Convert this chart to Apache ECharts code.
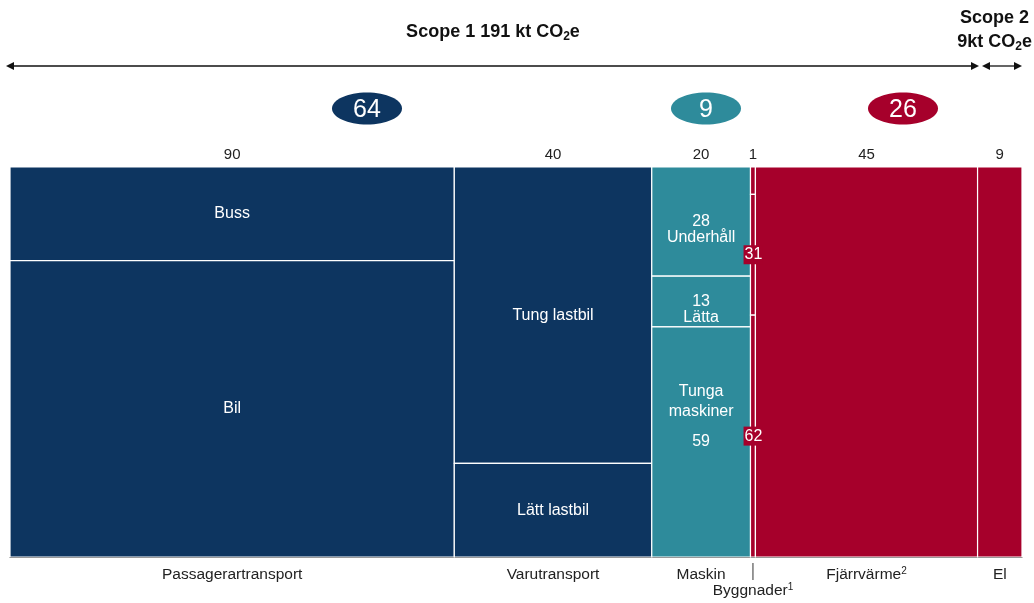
<!DOCTYPE html>
<html>
<head>
<meta charset="utf-8">
<script src="https://cdn.jsdelivr.net/npm/echarts@6/dist/echarts.min.js"></script>
<style>
html,body{margin:0;padding:0;background:#fff;}
#chart{width:1034px;height:603px;}
</style>
</head>
<body>
<div id="chart"></div>
<script>
// ---- data ----
const columns = ['Passagerartransport', 'Varutransport', 'Maskin', 'Byggnader', 'Fjärrvärme', 'El'];
const columnSups = ['', '', '', '1', '2', ''];
const columnTotals = [90, 40, 20, 1, 45, 9];
const columnColors = ['#0d3560', '#0d3560', '#2e8b9b', '#a6002b', '#a6002b', '#a6002b'];
// segment shares (%) from top to bottom
const passagerShares = [24, 76];
const passagerNames = ['Buss', 'Bil'];
const varuShares = [76, 24];
const varuNames = ['Tung lastbil', 'Lätt lastbil'];
const maskinShares = [28, 13, 59];
const maskinNames = ['Underhåll', 'Lätta', 'Tunga\nmaskiner'];
const byggShares = [7, 31, 62];
const fjarrShares = [100];
const elShares = [100];
const groupTotals = [64, 9, 26];
const scope1Total = 191;
const scope2Total = 9;

const allShares = [passagerShares, varuShares, maskinShares, byggShares, fjarrShares, elShares];

// build segments
const segData = [];
let xStart = 0;
columnTotals.forEach(function (w, ci) {
  let yTop = 100;
  allShares[ci].forEach(function (s, si) {
    segData.push([xStart, xStart + w, yTop - s, yTop, ci, si, s]);
    yTop -= s;
  });
  xStart += w;
});
const xTotal = xStart;
const colData = [];
xStart = 0;
columnTotals.forEach(function (w, ci) {
  colData.push([xStart, xStart + w, ci, w]);
  xStart += w;
});

function segLabel(ci, si, s) {
  if (ci === 0) return {main: passagerNames[si]};
  if (ci === 1) return {main: varuNames[si]};
  if (ci === 2) {
    if (si === 2) return {main: maskinNames[si], value: String(s)};
    return {main: s + '\n' + maskinNames[si], offset: 8};
  }
  if (ci === 3 && si > 0) return {callout: String(s)};
  return null;
}

const FONT = 'Liberation Sans, Arial, sans-serif';

const chart = echarts.init(document.getElementById('chart'));
const option = {
  animation: false,
  grid: {left: 10, right: 12, top: 167, bottom: 46},
  xAxis: {type: 'value', min: 0, max: xTotal, show: true,
    axisLine: {show: true, onZero: false, lineStyle: {color: '#333', width: 1}},
    axisTick: {show: false}, axisLabel: {show: false}, splitLine: {show: false}},
  yAxis: {type: 'value', min: 0, max: 100, show: false},
  series: [
    {
      type: 'custom',
      data: segData,
      z: 2,
      renderItem: function (params, api) {
        const x0 = api.value(0), x1 = api.value(1), y0 = api.value(2), y1 = api.value(3);
        const ci = api.value(4), si = api.value(5), s = api.value(6);
        const p0 = api.coord([x0, y1]);
        const p1 = api.coord([x1, y0]);
        const children = [{
          type: 'rect',
          shape: {x: p0[0], y: p0[1], width: p1[0] - p0[0], height: p1[1] - p0[1]},
          style: {fill: columnColors[ci], stroke: '#fff', lineWidth: 1.2}
        }];
        const lab = segLabel(ci, si, s);
        const cx = (p0[0] + p1[0]) / 2, cy = (p0[1] + p1[1]) / 2;
        if (lab && lab.main) {
          children.push({
            type: 'text', z2: 10,
            style: {text: lab.main, x: cx, y: cy + (lab.value ? -40 : (lab.offset || 0)), align: 'center', verticalAlign: 'middle',
              fill: '#fff', font: '16px ' + FONT, lineHeight: lab.value ? 20 : 16}
          });
        }
        if (lab && lab.value) {
          children.push({
            type: 'text', z2: 10,
            style: {text: lab.value, x: cx, y: cy, align: 'center', verticalAlign: 'middle',
              fill: '#fff', font: '16px ' + FONT}
          });
        }
        if (lab && lab.callout) {
          children.push({
            type: 'text', z2: 20,
            style: {text: lab.callout, x: cx, y: cy, align: 'center', verticalAlign: 'middle',
              fill: '#fff', font: '16px ' + FONT, backgroundColor: '#a6002b', padding: [2, 0, 1, 1]}
          });
        }
        return {type: 'group', children: children};
      }
    },
    {
      type: 'custom',
      data: colData,
      z: 3,
      renderItem: function (params, api) {
        const x0 = api.value(0), x1 = api.value(1), ci = api.value(2), w = api.value(3);
        const pt = api.coord([(x0 + x1) / 2, 100]);
        const pb = api.coord([(x0 + x1) / 2, 0]);
        const children = [{
          type: 'text',
          style: {text: String(w), x: pt[0], y: pt[1] - 12, align: 'center', verticalAlign: 'middle',
            fill: '#222', font: '15px ' + FONT}
        }];
        const isBygg = ci === 3;
        if (isBygg) {
          children.push({type: 'line', shape: {x1: pb[0], y1: pb[1] + 6, x2: pb[0], y2: pb[1] + 23},
            style: {stroke: '#333', lineWidth: 1}});
        }
        children.push({
          type: 'text',
          style: {
            text: '{n|' + columns[ci] + '}' + (columnSups[ci] ? '{s|' + columnSups[ci] + '}' : ''),
            x: pb[0], y: pb[1] + (isBygg ? 34 : 18), align: 'center', verticalAlign: 'middle',
            rich: {n: {fill: '#222', font: '15.5px ' + FONT},
                   s: {fill: '#222', font: '10px ' + FONT, verticalAlign: 'top', padding: [0, 0, 7, 0]}}
          }
        });
        return {type: 'group', children: children};
      }
    }
  ],
  graphic: [
    {type: 'text', style: {
      text: '{b|Scope 1 ' + scope1Total + ' kt CO}{sub|2}{b|e}', x: 493, y: 32, align: 'center', verticalAlign: 'middle',
      rich: {b: {font: 'bold 18px ' + FONT, fill: '#111'}, sub: {font: 'bold 12px ' + FONT, fill: '#111', padding: [9, 0, 0, 0]}}
    }},
    {type: 'text', style: {
      text: '{b|Scope 2}', x: 1029, y: 18, align: 'right', verticalAlign: 'middle',
      rich: {b: {font: 'bold 18px ' + FONT, fill: '#111'}}
    }},
    {type: 'text', style: {
      text: '{b|' + scope2Total + 'kt CO}{sub|2}{b|e}', x: 1032, y: 42, align: 'right', verticalAlign: 'middle',
      rich: {b: {font: 'bold 18px ' + FONT, fill: '#111'}, sub: {font: 'bold 12px ' + FONT, fill: '#111', padding: [9, 0, 0, 0]}}
    }},
    // scope 1 arrow
    {type: 'line', shape: {x1: 10, y1: 66, x2: 974, y2: 66}, style: {stroke: '#111', lineWidth: 1.3}},
    {type: 'polygon', shape: {points: [[6, 66], [14, 62], [14, 70]]}, style: {fill: '#111'}},
    {type: 'polygon', shape: {points: [[979, 66], [971, 62], [971, 70]]}, style: {fill: '#111'}},
    // scope 2 arrow
    {type: 'line', shape: {x1: 986, y1: 66, x2: 1018, y2: 66}, style: {stroke: '#111', lineWidth: 1.3}},
    {type: 'polygon', shape: {points: [[982, 66], [990, 62], [990, 70]]}, style: {fill: '#111'}},
    {type: 'polygon', shape: {points: [[1022, 66], [1014, 62], [1014, 70]]}, style: {fill: '#111'}},
    // group ellipses
    {type: 'ellipse', shape: {cx: 367, cy: 108.5, rx: 35, ry: 16}, style: {fill: '#0d3560'}},
    {type: 'text', style: {text: String(groupTotals[0]), x: 367, y: 110, align: 'center', verticalAlign: 'middle', fill: '#fff', font: '25px ' + FONT}},
    {type: 'ellipse', shape: {cx: 706, cy: 108.5, rx: 35, ry: 16}, style: {fill: '#2e8b9b'}},
    {type: 'text', style: {text: String(groupTotals[1]), x: 706, y: 110, align: 'center', verticalAlign: 'middle', fill: '#fff', font: '25px ' + FONT}},
    {type: 'ellipse', shape: {cx: 903, cy: 108.5, rx: 35, ry: 16}, style: {fill: '#a6002b'}},
    {type: 'text', style: {text: String(groupTotals[2]), x: 903, y: 110, align: 'center', verticalAlign: 'middle', fill: '#fff', font: '25px ' + FONT}}
  ]
};
chart.setOption(option);
</script>
</body>
</html>
